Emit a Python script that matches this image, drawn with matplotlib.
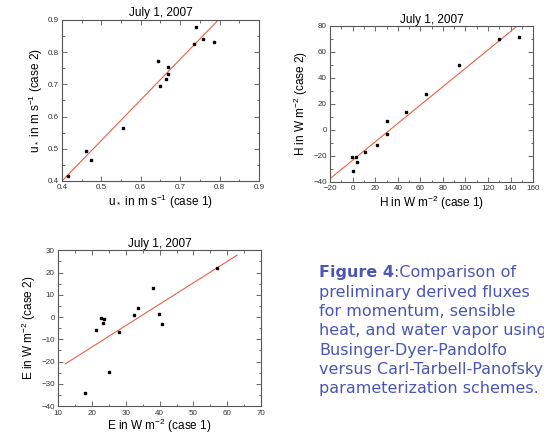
import numpy as np
import matplotlib as mpl
import matplotlib.pyplot as plt
from matplotlib.ticker import MultipleLocator

# friction velocity u* (m s-1)
u_case1 = [0.415, 0.462, 0.473, 0.556, 0.643, 0.648, 0.665, 0.668, 0.669, 0.735, 0.739, 0.758, 0.785]
u_case2 = [0.416, 0.494, 0.466, 0.566, 0.773, 0.696, 0.718, 0.732, 0.755, 0.826, 0.878, 0.842, 0.832]
u_fit_x = [0.40, 0.90]
u_fit_y = [0.40, 1.03]

# sensible heat flux H (W m-2)
h_case1 = [-0.8, 0.1, 3.0, 4.2, 11.3, 21.3, 30.5, 30.8, 47.6, 65.0, 94.2, 129.9, 147.3]
h_case2 = [-21.2, -31.5, -20.5, -24.6, -17.1, -11.5, 6.5, -3.0, 13.7, 27.3, 49.9, 70.0, 71.3]
h_fit_x = [-20, 160]
h_fit_y = [-37.4, 89.9]

# latent heat flux E (W m-2)
e_case1 = [21.1, 22.7, 23.3, 23.6, 24.9, 18.0, 27.9, 32.4, 33.7, 38.1, 39.8, 40.8, 57.0]
e_case2 = [-5.6, -0.2, -2.5, -0.7, -24.6, -33.9, -6.6, 1.1, 4.0, 13.2, 1.3, -2.9, 22.1]
e_fit_x = [12.1, 62.9]
e_fit_y = [-21.0, 27.8]

caption_head = 'Figure 4'
caption = [':Comparison of',
           'preliminary derived fluxes',
           'for momentum, sensible',
           'heat, and water vapor using',
           'Businger-Dyer-Pandolfo',
           'versus Carl-Tarbell-Panofsky',
           'parameterization schemes.']

mpl.rcParams['font.family'] = 'Liberation Sans'
mpl.rcParams['mathtext.default'] = 'regular'
mpl.rcParams['axes.linewidth'] = 0.8
mpl.rcParams['axes.edgecolor'] = '#555555'

fig = plt.figure(figsize=(5.44, 4.33), dpi=100)


def panel(rect, x, y, fx, fy, xlim, ylim, xstep, ystep, xlabel, ylabel, xpad=1):
    ax = fig.add_axes(rect)
    ax.plot(fx, fy, color='#e8604c', lw=0.8)
    ax.plot(x, y, 's', color='black', ms=1.8)
    ax.set_xlim(xlim)
    ax.set_ylim(ylim)
    ax.xaxis.set_major_locator(MultipleLocator(xstep))
    ax.xaxis.set_minor_locator(MultipleLocator(xstep / 2))
    ax.yaxis.set_major_locator(MultipleLocator(ystep))
    ax.yaxis.set_minor_locator(MultipleLocator(ystep / 2))
    ax.tick_params(which='both', direction='in', top=True, right=True,
                   labelsize=5.8, labelcolor='#333333', color='#555555', width=0.6, pad=2.5)
    ax.tick_params(which='major', length=3.5)
    ax.tick_params(which='minor', length=1.8)
    ax.set_title('July 1, 2007', fontsize=8.5, pad=2.5)
    ax.set_xlabel(xlabel, fontsize=8.5, labelpad=xpad)
    ax.set_ylabel(ylabel, fontsize=8.5, labelpad=2)
    return ax


panel([0.114, 0.582, 0.362, 0.372], u_case1, u_case2, u_fit_x, u_fit_y,
      (0.4, 0.9), (0.4, 0.9), 0.1, 0.1,
      r'u$_*$ in m s$^{-1}$ (case 1)', r'u$_*$ in m s$^{-1}$ (case 2)')
panel([0.607, 0.580, 0.373, 0.360], h_case1, h_case2, h_fit_x, h_fit_y,
      (-20, 160), (-40, 80), 20, 20,
      r'H in W m$^{-2}$ (case 1)', r'H in W m$^{-2}$ (case 2)')
panel([0.107, 0.062, 0.373, 0.360], e_case1, e_case2, e_fit_x, e_fit_y,
      (10, 70), (-40, 30), 10, 10,
      r'E in W m$^{-2}$ (case 1)', r'E in W m$^{-2}$ (case 2)', xpad=0)

# caption
blue = '#4a55b5'
cap_size = 11.5
x0 = 319 / 544
t = fig.text(x0, 1 - 277 / 433, caption_head, family='DejaVu Sans', weight='bold',
             fontsize=cap_size, color=blue, va='baseline')
fig.canvas.draw()
bb = t.get_window_extent()
fig.text(bb.x1 / fig.bbox.width, 1 - 277 / 433, caption[0], family='DejaVu Sans',
         fontsize=cap_size, color=blue, va='baseline')
for i, line in enumerate(caption[1:]):
    fig.text(x0, 1 - (296.5 + 19.4 * i) / 433, line, family='DejaVu Sans',
             fontsize=cap_size, color=blue, va='baseline')

plt.savefig('out.png', dpi=100)
